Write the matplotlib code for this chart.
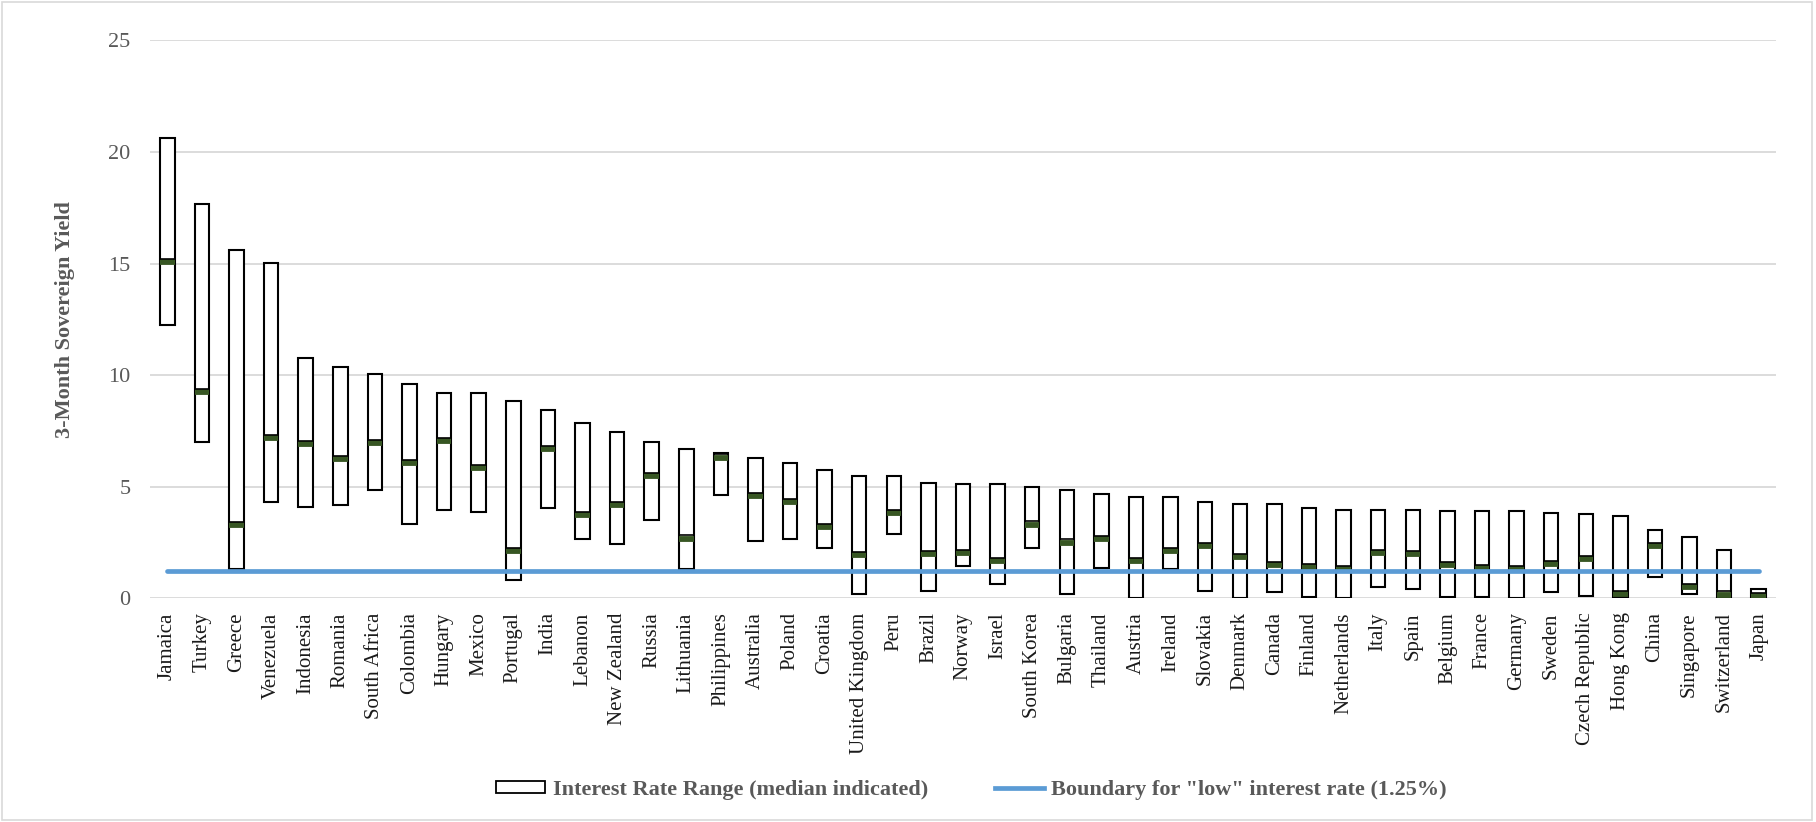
import numpy as np
import matplotlib
matplotlib.use("Agg")
import matplotlib.pyplot as plt
from matplotlib.patches import Patch, Rectangle
from matplotlib.lines import Line2D

plt.rcParams['font.family'] = ['Liberation Serif', 'DejaVu Serif']

countries = ["Jamaica", "Turkey", "Greece", "Venezuela", "Indonesia", "Romania", "South Africa",
             "Colombia", "Hungary", "Mexico", "Portugal", "India", "Lebanon", "New Zealand",
             "Russia", "Lithuania", "Philippines", "Australia", "Poland", "Croatia",
             "United Kingdom", "Peru", "Brazil", "Norway", "Israel", "South Korea", "Bulgaria",
             "Thailand", "Austria", "Ireland", "Slovakia", "Denmark", "Canada", "Finland",
             "Netherlands", "Italy", "Spain", "Belgium", "France", "Germany", "Sweden",
             "Czech Republic", "Hong Kong", "China", "Singapore", "Switzerland", "Japan"]

high = [20.62, 17.68, 15.61, 15.04, 10.78, 10.37, 10.07, 9.62, 9.22, 9.22,
        8.86, 8.45, 7.84, 7.44, 7.0, 6.71, 6.5, 6.29, 6.06, 5.74,
        5.5, 5.47, 5.18, 5.11, 5.11, 4.99, 4.85, 4.67, 4.53, 4.53,
        4.32, 4.23, 4.23, 4.06, 3.97, 3.96, 3.94, 3.93, 3.93, 3.9,
        3.82, 3.77, 3.7, 3.05, 2.75, 2.17, 0.42]
median = [15.22, 9.4, 3.42, 7.33, 7.06, 6.37, 7.1, 6.21, 7.17, 5.96,
          2.25, 6.84, 3.89, 4.33, 5.61, 2.82, 6.45, 4.73, 4.46, 3.33,
          2.1, 3.95, 2.12, 2.17, 1.83, 3.45, 2.64, 2.79, 1.8, 2.26,
          2.49, 2.01, 1.65, 1.55, 1.46, 2.16, 2.13, 1.62, 1.49, 1.44,
          1.67, 1.91, 0.34, 2.47, 0.64, 0.31, 0.24]
low = [12.25, 7.0, 1.3, 4.31, 4.11, 4.2, 4.87, 3.32, 3.97, 3.85,
       0.82, 4.06, 2.64, 2.45, 3.5, 1.3, 4.62, 2.57, 2.67, 2.27,
       0.22, 2.9, 0.34, 1.45, 0.63, 2.25, 0.22, 1.34, 0.0, 1.3,
       0.33, 0.0, 0.27, 0.06, 0.01, 0.5, 0.4, 0.06, 0.06, 0.01,
       0.28, 0.1, 0.07, 0.97, 0.19, 0.04, 0.0]
boundary = 1.25

x = np.arange(len(countries))
high = np.array(high)
median = np.array(median)
low = np.array(low)
w = 0.42

fig = plt.figure(figsize=(18.16, 8.22), dpi=100)
ax = fig.add_axes([0.0826, 0.272, 0.8954, 0.679])

ax.bar(x, high - low, bottom=low, width=w, color="white", edgecolor="black",
       linewidth=1.5, zorder=2)
# median marker: green band with a thin black edge on top
ax.hlines(median - 0.14, x - w / 2, x + w / 2, color="#375623", linewidth=4.2, zorder=3)
ax.hlines(median, x - w / 2, x + w / 2, color="black", linewidth=1.2, zorder=3)

ax.plot(x, np.full(len(x), boundary), color="#5B9BD5", linewidth=3.4,
        solid_capstyle="round", zorder=4)

ax.set_xlim(-0.5, len(x) - 0.5)
ax.set_ylim(0, 25)
ax.set_yticks([0, 5, 10, 15, 20, 25])
ax.yaxis.grid(True, color="#D9D9D9", linewidth=1.3, zorder=0)
ax.set_axisbelow(True)
for s in ax.spines.values():
    s.set_visible(False)
ax.tick_params(axis="both", length=0)
ax.tick_params(axis="y", labelsize=16, labelcolor="#595959", pad=14)
ax.set_xticks(x)
ax.set_xticklabels(countries, rotation=90, fontsize=15, color="#1a1a1a")
ax.tick_params(axis="x", pad=10)
ax.set_ylabel("3-Month Sovereign Yield", fontsize=16, fontweight="bold",
              color="#595959", labelpad=24)

handles = [Patch(facecolor="white", edgecolor="black", linewidth=1.3),
           Line2D([0], [0], color="#5B9BD5", linewidth=3.4)]
labels = ["Interest Rate Range (median indicated)",
          "Boundary for \"low\" interest rate (1.25%)"]
leg = fig.legend(handles, labels, loc="center", bbox_to_anchor=(0.535, 0.039), ncol=2,
                 frameon=False, handlelength=2.2, handleheight=0.5, handletextpad=0.35,
                 columnspacing=3.0, prop={"size": 16, "weight": "bold"})
for t in leg.get_texts():
    t.set_color("#595959")

fig.patches.append(Rectangle((0.001, 0.002), 0.997, 0.995, transform=fig.transFigure,
                             fill=False, edgecolor="#D9D9D9", linewidth=1.2))

fig.savefig("out.png", dpi=100)
